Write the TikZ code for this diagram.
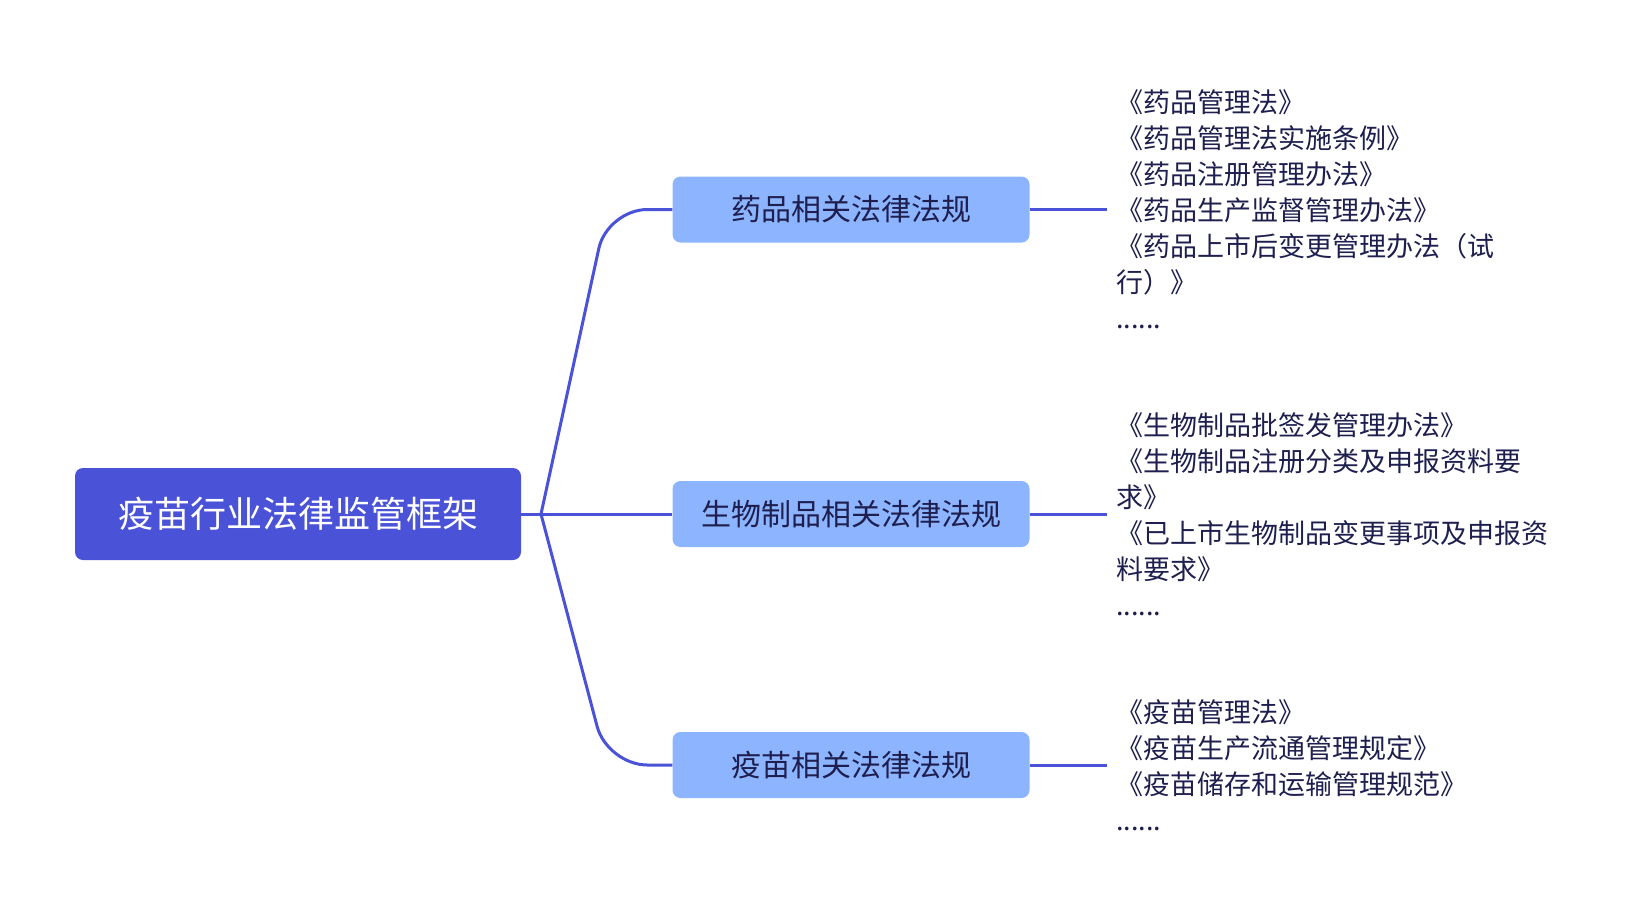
\documentclass[tikz,border=0pt]{standalone}
\usepackage{fontspec}
\setmainfont{Noto Sans CJK SC}
\usepackage{xcolor}
\usetikzlibrary{positioning}

\definecolor{rootblue}{HTML}{4A52D8}
\definecolor{leafblue}{HTML}{8DB4FF}
\definecolor{inkblue}{HTML}{1E1F4E}

\begin{document}
\begin{tikzpicture}[x=1pt, y=-1pt]
    % Define styles
    \tikzstyle{root}=[draw=none, fill=rootblue, text=white, rounded corners=8pt, minimum width=446pt, minimum height=92pt, font=\fontsize{36}{40}\selectfont]
    \tikzstyle{topic}=[draw=none, fill=leafblue, text=inkblue, rounded corners=8pt, minimum width=357pt, minimum height=66pt, font=\fontsize{30}{34}\selectfont]
    \tikzstyle{leaves}=[anchor=west, align=left, text=inkblue, inner xsep=9pt, inner ysep=0pt, font=\fontsize{27}{36}\selectfont]
    \tikzstyle{link}=[draw=rootblue, line width=3pt, rounded corners=40pt]

    \useasboundingbox (0,0) rectangle (1635,921);

    % Draw the nodes
    \node[root] (frame) at (298,514) {疫苗行业法律监管框架};
    \node[topic] (drug) at (851,209.5) {药品相关法律法规};
    \node[topic] (bio) at (851,514) {生物制品相关法律法规};
    \node[topic] (vaccine) at (851,765) {疫苗相关法律法规};
    \coordinate (fork) at (541,514);

    % Draw the lists
    \node[leaves] (druglaws) at (1107,209.5) {《药品管理法》\\《药品管理法实施条例》\\《药品注册管理办法》\\《药品生产监督管理办法》\\《药品上市后变更管理办法（试\\行）》\\......};
    \node[leaves] (biolaws) at (1107,514) {《生物制品批签发管理办法》\\《生物制品注册分类及申报资料要\\求》\\《已上市生物制品变更事项及申报资\\料要求》\\......};
    \node[leaves] (vaccinelaws) at (1107,765) {《疫苗管理法》\\《疫苗生产流通管理规定》\\《疫苗储存和运输管理规范》\\......};

    % Draw the edges
    \draw[link] (frame.east) -- (fork);
    \draw[link] (fork) -- (bio.west);
    \foreach \t in {drug,vaccine}
        \draw[link] (fork) -- ([xshift=-65pt]\t.west) -- (\t.west);
    \foreach \t/\l in {drug/druglaws, bio/biolaws, vaccine/vaccinelaws}
        \draw[link] (\t.east) -- (\l.west);

\end{tikzpicture}
\end{document}
